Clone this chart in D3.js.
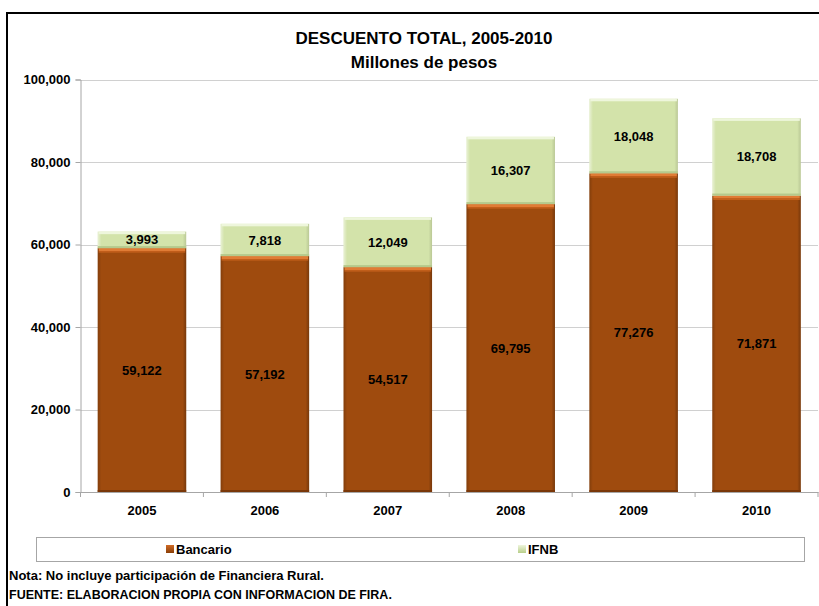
<!DOCTYPE html>
<html><head><meta charset="utf-8">
<script src="https://cdn.jsdelivr.net/npm/d3@7"></script>
<style>
body{margin:0;background:#fff;}
text{font-family:"Liberation Sans Narrow","Arial Narrow","Liberation Sans",sans-serif;font-weight:bold;}
</style></head><body>
<svg id="c" width="819" height="606"></svg>
<script>
const years = ["2005","2006","2007","2008","2009","2010"];
const bancario = [59122, 57192, 54517, 69795, 77276, 71871];
const ifnb = [3993, 7818, 12049, 16307, 18048, 18708];
const yTicks = [0, 20000, 40000, 60000, 80000, 100000];
const seriesNames = ["Bancario", "IFNB"];

const svg = d3.select("#c");
const defs = svg.append("defs");
function grad(id, stops, horiz){
  const g = defs.append("linearGradient").attr("id", id)
    .attr("x1",0).attr("y1",0).attr("x2",horiz?1:0).attr("y2",horiz?0:1);
  stops.forEach(s=>g.append("stop").attr("offset",s[0]).attr("stop-color",s[1]).attr("stop-opacity",s[2]==null?1:s[2]));
}
grad("sideB", [[0,"#000",0.18],[0.04,"#000",0],[0.96,"#000",0],[1,"#000",0.25]], true);
grad("sideG", [[0,"#fff",0.5],[0.04,"#fff",0],[0.96,"#000",0],[1,"#000",0.12]], true);
grad("swB", [[0,"#d06a25"],[1,"#8a3f08"]], false);
grad("swG", [[0,"#eef5dc"],[1,"#b8cf8a"]], false);

// frame
svg.append("rect").attr("x",7).attr("y",13).attr("width",830).attr("height",620)
  .attr("fill","none").attr("stroke","#000").attr("stroke-width",2);

const x0 = 80.5, x1 = 818, yTop = 79.5, yBot = 492;
const x = d3.scaleBand().domain(years).range([x0, x1]).paddingInner(0.28).paddingOuter(0.14);
const y = d3.scaleLinear().domain([0, 100000]).range([yBot, yTop]);

// gridlines
svg.append("g").selectAll("line").data(yTicks.slice(1)).join("line")
  .attr("x1",x0).attr("x2",x1).attr("y1",d=>Math.round(y(d))+0.5).attr("y2",d=>Math.round(y(d))+0.5)
  .attr("stroke","#d0d0d0").attr("stroke-width",1);

// y axis
const ya = svg.append("g").attr("transform",`translate(${x0},0)`)
  .call(d3.axisLeft(y).tickValues(yTicks).tickSize(5).tickFormat(d3.format(",")));
ya.select(".domain").attr("stroke","#a6a6a6");
ya.selectAll(".tick line").attr("stroke","#a6a6a6");
ya.selectAll("text").attr("font-size",13).attr("fill","#000").attr("x",-10)
  .style("font-family",'"Liberation Sans Narrow","Arial Narrow",sans-serif').style("font-weight","bold");

// x axis
const xa = svg.append("g").attr("transform",`translate(0,${yBot})`)
  .call(d3.axisBottom(x).tickSize(0));
xa.select(".domain").attr("stroke","#a6a6a6");
xa.selectAll("text").attr("font-size",13).attr("fill","#000").attr("dy","1.55em")
  .style("font-family",'"Liberation Sans Narrow","Arial Narrow",sans-serif').style("font-weight","bold");
const step = x.step();
svg.append("g").selectAll("line").data(d3.range(years.length+1)).join("line")
  .attr("x1",i=>x0 + i*step).attr("x2",i=>x0 + i*step)
  .attr("y1",yBot).attr("y2",yBot+5).attr("stroke","#a6a6a6");

// bars
const bw = x.bandwidth();
const gB = svg.append("g");
years.forEach((yr,i)=>{
  const bx = x(yr);
  const yb = y(bancario[i]);
  const yt = y(bancario[i] + ifnb[i]);
  // Bancario
  gB.append("rect").attr("x",bx).attr("y",yb).attr("width",bw).attr("height",yBot-yb).attr("fill","#9f4b0e");
  gB.append("rect").attr("x",bx).attr("y",yb).attr("width",bw).attr("height",yBot-yb).attr("fill","url(#sideB)");
  gB.append("rect").attr("x",bx+1).attr("y",yb).attr("width",bw-2).attr("height",3).attr("fill","#e07c35");
  gB.append("rect").attr("x",bx+1).attr("y",yb+3).attr("width",bw-2).attr("height",1.5).attr("fill","#c4601c");
  gB.append("rect").attr("x",bx).attr("y",yBot-2).attr("width",bw).attr("height",2).attr("fill","#7a3708");
  // IFNB
  gB.append("rect").attr("x",bx).attr("y",yt).attr("width",bw).attr("height",yb-yt).attr("fill","#d3e3aa");
  gB.append("rect").attr("x",bx).attr("y",yt).attr("width",bw).attr("height",yb-yt).attr("fill","url(#sideG)");
  gB.append("rect").attr("x",bx+1).attr("y",yt).attr("width",bw-2).attr("height",2.5).attr("fill","#eef6dc");
  gB.append("rect").attr("x",bx).attr("y",yb-2).attr("width",bw).attr("height",2).attr("fill","#b5c98c");
  // labels
  gB.append("text").attr("x",bx+bw/2).attr("y",(yb+yBot)/2).attr("dy","0.35em")
    .attr("text-anchor","middle").attr("font-size",13).attr("fill","#000").text(d3.format(",")(bancario[i]));
  gB.append("text").attr("x",bx+bw/2).attr("y",(yb+yt)/2).attr("dy","0.35em")
    .attr("text-anchor","middle").attr("font-size",13).attr("fill","#000").text(d3.format(",")(ifnb[i]));
});

// title
svg.append("text").attr("x",424).attr("y",44).attr("text-anchor","middle").attr("font-size",17).text("DESCUENTO TOTAL, 2005-2010");
svg.append("text").attr("x",424).attr("y",68).attr("text-anchor","middle").attr("font-size",17).text("Millones de pesos");

// legend
svg.append("rect").attr("x",36.5).attr("y",537.5).attr("width",768).attr("height",24)
  .attr("fill","#fff").attr("stroke","#a6a6a6");
const legX = [166, 518];
const legFill = ["url(#swB)","url(#swG)"];
seriesNames.forEach((n,i)=>{
  svg.append("rect").attr("x",legX[i]).attr("y",545).attr("width",8).attr("height",8).attr("fill",legFill[i]);
  svg.append("text").attr("x",legX[i]+10).attr("y",549).attr("dy","0.35em").attr("font-size",13).text(n);
});

// notes
svg.append("text").attr("x",9).attr("y",580).attr("font-size",13).text("Nota: No incluye participación  de Financiera Rural.");
svg.append("text").attr("x",9).attr("y",599).attr("font-size",12.5).text("FUENTE:  ELABORACION PROPIA CON INFORMACION DE FIRA.");
</script></body></html>
